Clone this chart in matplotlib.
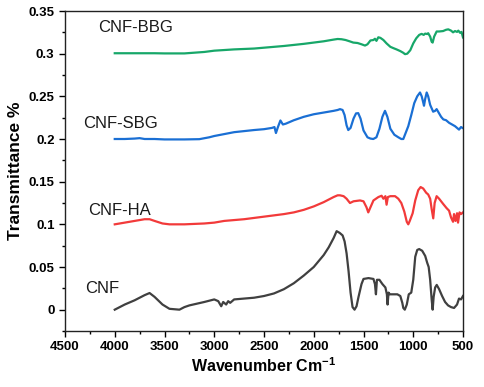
import matplotlib
matplotlib.use("Agg")
import matplotlib.pyplot as plt
from matplotlib.ticker import MultipleLocator

plt.rcParams['font.family'] = ['Liberation Sans', 'DejaVu Sans']

# CNF
cnf_x = [4000, 3900, 3800, 3700, 3650, 3600, 3520, 3450, 3350, 3300, 3250, 3100, 3000, 2960, 2930, 2910, 2880, 2860, 2840, 2800,
         2600, 2500, 2400, 2300, 2200, 2100, 2000, 1900, 1850, 1800, 1770, 1740, 1710, 1690, 1670, 1650, 1630, 1610, 1590, 1570,
         1550, 1520, 1500, 1450, 1400, 1385, 1375, 1365, 1340, 1310, 1280, 1265, 1258, 1248, 1235, 1200, 1160, 1130, 1110, 1100,
         1085, 1065, 1045, 1020, 1000, 980, 960, 940, 910, 880, 860, 845, 830, 815, 805, 795, 780, 764, 740, 710, 680, 650, 620,
         590, 560, 540, 520, 505, 500]
cnf_y = [0.000, 0.006, 0.011, 0.017, 0.0195, 0.015, 0.006, 0.001, 0.000, 0.003, 0.005, 0.009, 0.012, 0.010, 0.004, 0.009, 0.006, 0.010, 0.008, 0.012,
         0.014, 0.016, 0.019, 0.024, 0.031, 0.040, 0.050, 0.064, 0.073, 0.084, 0.092, 0.090, 0.087, 0.080, 0.066, 0.045, 0.020, 0.003, 0.000, 0.004,
         0.015, 0.030, 0.036, 0.037, 0.036, 0.030, 0.018, 0.035, 0.035, 0.030, 0.026, 0.018, 0.006, 0.020, 0.018, 0.018, 0.018, 0.016, 0.008, 0.002,
         0.000, 0.006, 0.018, 0.020, 0.035, 0.062, 0.070, 0.071, 0.069, 0.063, 0.055, 0.050, 0.035, 0.012, 0.000, 0.015, 0.026, 0.029, 0.024, 0.016, 0.009, 0.005, 0.003,
         0.002, 0.006, 0.013, 0.012, 0.015, 0.016]

# CNF-HA
ha_x = [4000, 3900, 3800, 3700, 3650, 3600, 3520, 3450, 3300, 3100, 3000, 2900, 2700, 2500, 2300, 2200, 2100, 2000, 1900, 1800,
        1760, 1736, 1700, 1670, 1636, 1600, 1535, 1500, 1470, 1452, 1430, 1400, 1350, 1318, 1300, 1280, 1268, 1255, 1230, 1183,
        1150, 1120, 1090, 1065, 1050, 1035, 1006, 980, 950, 926, 900, 870, 850, 830, 815, 799, 785, 765, 740, 700, 665, 640,
        620, 600, 590, 575, 560, 550, 535, 520, 500]
ha_y = [0.100, 0.102, 0.104, 0.106, 0.106, 0.104, 0.101, 0.100, 0.100, 0.101, 0.102, 0.104, 0.106, 0.109, 0.112, 0.114, 0.117, 0.121, 0.126, 0.132,
        0.134, 0.134, 0.133, 0.130, 0.125, 0.127, 0.128, 0.127, 0.120, 0.114, 0.120, 0.128, 0.132, 0.1335, 0.130, 0.133, 0.123, 0.132, 0.133, 0.133,
        0.130, 0.125, 0.115, 0.103, 0.100, 0.104, 0.113, 0.128, 0.140, 0.1437, 0.142, 0.137, 0.135, 0.130, 0.118, 0.107, 0.125, 0.133, 0.130, 0.124, 0.119, 0.116,
        0.108, 0.103, 0.112, 0.104, 0.113, 0.102, 0.114, 0.112, 0.114]

# CNF-SBG
sbg_x = [4000, 3900, 3800, 3750, 3700, 3600, 3500, 3300, 3150, 3050, 3000, 2800, 2600, 2500, 2420, 2395, 2380, 2360, 2335, 2310, 2280,
         2200, 2100, 2000, 1900, 1800, 1760, 1736, 1710, 1690, 1670, 1653, 1630, 1600, 1575, 1553, 1530, 1500, 1460, 1430, 1402,
         1370, 1340, 1310, 1284, 1260, 1230, 1190, 1150, 1120, 1100, 1080, 1050, 1020, 990, 960, 932, 915, 900, 892, 880, 865,
         850, 830, 800, 780, 765, 740, 720, 698, 670, 640, 610, 580, 560, 540, 520, 500]
sbg_y = [0.200, 0.200, 0.2005, 0.201, 0.200, 0.200, 0.1995, 0.1995, 0.1998, 0.202, 0.2035, 0.208, 0.2105, 0.2115, 0.213, 0.214, 0.207, 0.214, 0.2217, 0.217, 0.218,
         0.222, 0.226, 0.229, 0.231, 0.233, 0.234, 0.235, 0.234, 0.228, 0.216, 0.2105, 0.213, 0.224, 0.230, 0.2303, 0.224, 0.210, 0.202, 0.2005, 0.200,
         0.202, 0.212, 0.226, 0.233, 0.226, 0.212, 0.205, 0.202, 0.200, 0.200, 0.206, 0.215, 0.228, 0.242, 0.250, 0.2545, 0.250, 0.243, 0.239, 0.247, 0.2545,
         0.250, 0.240, 0.232, 0.233, 0.235, 0.230, 0.226, 0.223, 0.222, 0.219, 0.217, 0.215, 0.213, 0.211, 0.214, 0.2127]

# CNF-BBG
bbg_x = [4000, 3800, 3600, 3500, 3300, 3100, 3000, 2800, 2600, 2500, 2300, 2100, 2000, 1900, 1800, 1760, 1720, 1680, 1640, 1603,
         1560, 1520, 1485, 1460, 1430, 1400, 1385, 1370, 1351, 1330, 1300, 1268, 1230, 1200, 1168, 1130, 1100, 1083, 1060, 1030,
         1000, 970, 940, 916, 895, 880, 860, 850, 830, 815, 805, 790, 765, 740, 700, 670, 648, 620, 600, 580, 560, 547, 530, 515, 500]
bbg_y = [0.3005, 0.3005, 0.3005, 0.3003, 0.3003, 0.302, 0.3035, 0.305, 0.306, 0.307, 0.309, 0.3115, 0.313, 0.3145, 0.3165, 0.3172, 0.3169, 0.316, 0.3145, 0.313,
         0.3125, 0.311, 0.3095, 0.311, 0.3155, 0.316, 0.3175, 0.315, 0.3192, 0.3185, 0.316, 0.312, 0.308, 0.3065, 0.305, 0.303, 0.301, 0.2994, 0.300, 0.304,
         0.312, 0.318, 0.322, 0.3232, 0.322, 0.3235, 0.323, 0.324, 0.320, 0.314, 0.313, 0.320, 0.326, 0.326, 0.3265, 0.328, 0.3285, 0.327, 0.325, 0.3265, 0.3255, 0.327, 0.3245, 0.3255, 0.319]

labels = ["CNF", "CNF-HA", "CNF-SBG", "CNF-BBG"]
colors = ["#404040", "#f23a3a", "#1a6fd4", "#17a769"]
label_pos = [(4300, 0.0246), (4270, 0.116), (4320, 0.218), (4170, 0.331)]

fig = plt.figure(figsize=(4.84, 3.87), dpi=100)
ax = fig.add_axes([65/484, 1-331/387, (463-65)/484, (331-11)/387])

series = [(cnf_x, cnf_y), (ha_x, ha_y), (sbg_x, sbg_y), (bbg_x, bbg_y)]
for (xs, ys), c in zip(series, colors):
    ax.plot(xs, ys, color=c, lw=1.6, solid_joinstyle='round')

for lab, (lx, ly) in zip(labels, label_pos):
    ax.text(lx, ly, lab, fontsize=12, color="#1a1a1a", ha='left', va='center')

ax.set_xlim(4500, 500)
ax.set_ylim(-0.025, 0.35)
ax.xaxis.set_major_locator(MultipleLocator(500))
ax.xaxis.set_minor_locator(MultipleLocator(250))
ax.set_yticks([0, 0.05, 0.1, 0.15, 0.2, 0.25, 0.3, 0.35])
ax.set_yticklabels(["0", "0.05", "0.1", "0.15", "0.2", "0.25", "0.3", "0.35"])
ax.yaxis.set_minor_locator(MultipleLocator(0.025))
ax.tick_params(axis='both', which='major', direction='out', length=4, width=1, labelsize=9.5, top=False, right=False)
ax.tick_params(axis='both', which='minor', direction='out', length=2.5, width=1, top=False, right=False)
for lab in ax.get_xticklabels() + ax.get_yticklabels():
    lab.set_fontweight('bold')
for s in ax.spines.values():
    s.set_linewidth(1.0)
    s.set_color("#222222")

ax.set_xlabel("Wavenumber Cm$^{\\mathregular{-1}}$", fontsize=11.5, fontweight='bold', labelpad=2)
ax.set_ylabel("Transmittance %", fontsize=12.5, fontweight='bold')

fig.savefig("out.png", dpi=100)
